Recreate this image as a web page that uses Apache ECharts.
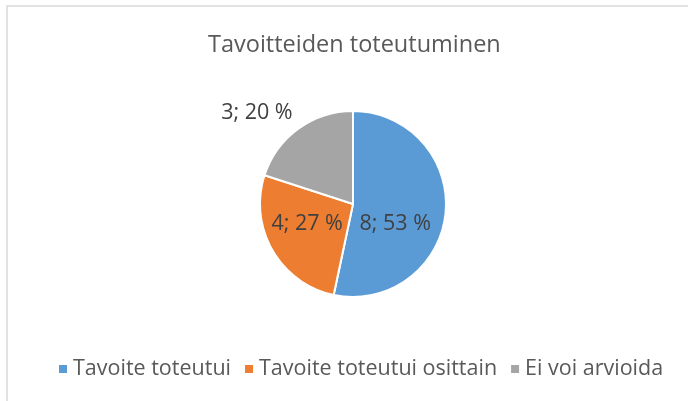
<!DOCTYPE html>
<html><head><meta charset="utf-8">
<script src="https://cdn.jsdelivr.net/npm/echarts@6/dist/echarts.min.js"></script>
<style>html,body{margin:0;padding:0;background:#fff}#c{width:688px;height:401px}</style>
</head><body><div id="c"></div>
<script>
const categories = ['Tavoite toteutui', 'Tavoite toteutui osittain', 'Ei voi arvioida'];
const values = [8, 4, 3];
const colors = ['#5B9BD5', '#ED7D31', '#A5A5A5'];
const titleText = 'Tavoitteiden toteutuminen';
const labelOffsets = [[-7, 15], [-3, -5], [-67, -51]];

const chart = echarts.init(document.getElementById('c'));
chart.setOption({
  animation: false,
  graphic: [{type: 'rect', shape: {x: 7, y: 6, width: 720, height: 430}, style: {fill: 'none', stroke: '#d9d9d9', lineWidth: 1.5}}],
  title: {text: titleText, left: 203, top: 28, textStyle: {fontFamily: 'Open Sans', fontSize: 23.5, fontWeight: 'normal', color: '#595959'}},
  legend: {
    bottom: 16, left: 52, icon: 'rect', itemWidth: 10, itemHeight: 10, itemGap: 12,
    textStyle: {fontFamily: 'Open Sans', fontSize: 21.5, color: '#595959'},
    data: categories
  },
  series: [{
    type: 'pie', center: [353, 204], radius: 93, startAngle: 90, clockwise: true,
    percentPrecision: 0,
    itemStyle: {borderColor: '#fff', borderWidth: 2},
    label: {position: 'inside', formatter: '{c}; {d} %', fontFamily: 'Open Sans', fontSize: 21.5, color: '#404040'},
    labelLine: {show: false},
    labelLayout: function (p) { const o = labelOffsets[p.dataIndex]; return {dx: o[0], dy: o[1]}; },
    data: categories.map((n, i) => ({name: n, value: values[i], itemStyle: {color: colors[i]}}))
  }]
});
</script></body></html>
